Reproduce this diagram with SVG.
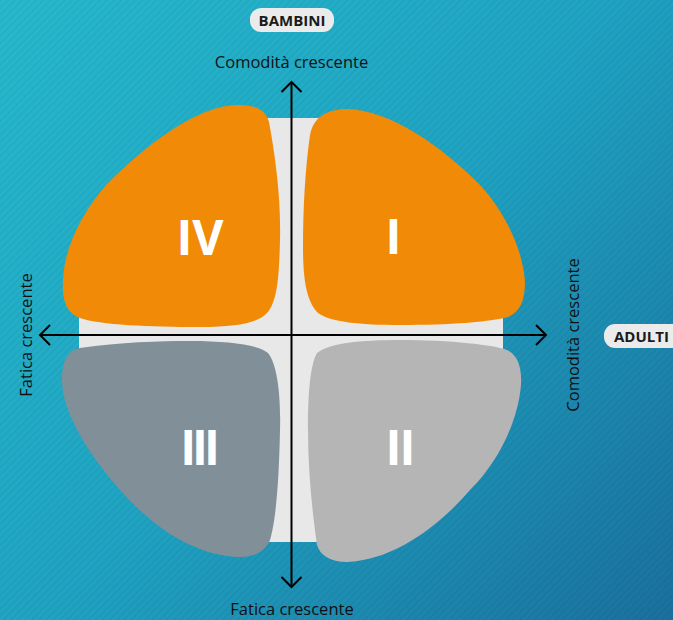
<svg xmlns="http://www.w3.org/2000/svg" width="673" height="620" viewBox="0 0 673 620">
<defs>
<linearGradient id="bg" x1="0" y1="0" x2="673" y2="620" gradientUnits="userSpaceOnUse">
<stop offset="0" stop-color="#27b9cd"/>
<stop offset="0.5" stop-color="#1fa3c2"/>
<stop offset="1" stop-color="#1a709d"/>
</linearGradient>
<pattern id="stripes" width="5" height="5" patternUnits="userSpaceOnUse" patternTransform="rotate(45)">
<rect x="0" y="0" width="1.5" height="5" fill="#000" fill-opacity="0.05"/>
</pattern>
<marker id="head" viewBox="-12 -12 14 24" markerWidth="14" markerHeight="24" refX="0" refY="0" orient="auto" markerUnits="userSpaceOnUse">
<path d="M -10,-10 L 0,0 L -10,10" fill="none" stroke="#000" stroke-width="2"/>
</marker>
</defs>
<style>
.lbl{font-family:"Open Sans","Noto Sans","DejaVu Sans",sans-serif;font-size:16.5px;fill:#111;}
.pill{fill:#ebebeb;}
.ptxt{font-family:"Open Sans","Noto Sans","DejaVu Sans",sans-serif;font-size:15px;font-weight:bold;fill:#1a1a1a;}
.num{font-family:"Open Sans","Noto Sans","DejaVu Sans",sans-serif;font-size:48px;font-weight:bold;fill:#fff;text-anchor:middle;}
.axis{stroke:#000;stroke-width:2;fill:none;marker-end:url(#head);}
.panel{fill:#e8e8e8;}
</style>
<rect width="673" height="620" fill="url(#bg)"/>
<rect width="673" height="620" fill="url(#stripes)"/>
<g id="panel">
<rect class="panel" x="250" y="118" width="85" height="424" rx="6"/>
<rect class="panel" x="79" y="300" width="424" height="60"/>
</g>
<g id="q4">
<path d="M 237,105 C 255,104 266,110 269,122 C 276,160 281,200 280,240 C 279,280 277,300 268,312 C 260,322 240,327 200,327 C 150,327 100,325 80,318 C 65,312 62,298 63,280 C 64,250 80,215 106,185 C 146,145 196,106 237,105 Z" fill="#f18a07"/>
<text class="num" x="200" y="255">IV</text>
</g>
<g id="q1">
<path d="M 347,109 C 326,109 313,118 310,135 C 305,170 303,210 303,245 C 303,275 305,300 318,313 C 330,322 360,325 400,325 C 450,325 490,322 508,317 C 520,312 525,300 525,282 C 523,250 505,212 480,185 C 440,145 390,110 347,109 Z" fill="#f18a07"/>
<text class="num" x="393.5" y="254">I</text>
</g>
<g id="q3">
<path d="M 80,348 C 120,342 160,341 190,341 C 230,341 258,345 268,353 C 278,365 281,400 280,430 C 279,480 276,520 270,540 C 265,553 252,557 237,557 C 200,555 160,535 120,490 C 85,450 62,410 62,380 C 62,360 68,350 80,348 Z" fill="#818f98"/>
<text class="num" x="198" y="465" letter-spacing="-4">III</text>
</g>
<g id="q2">
<path d="M 317,353 C 330,343 360,340 400,340 C 450,340 495,345 507,350 C 518,355 522,368 521,385 C 518,420 500,460 470,490 C 440,525 395,560 347,562 C 330,562 320,555 317,545 C 312,510 308,470 308,430 C 308,395 310,365 317,353 Z" fill="#b5b5b5"/>
<text class="num" x="399.5" y="465" letter-spacing="-2">II</text>
</g>
<g id="connectors">
<line class="axis" x1="291.5" y1="335" x2="291.5" y2="82"/>
<line class="axis" x1="291.5" y1="335" x2="291.5" y2="587"/>
<line class="axis" x1="291.5" y1="335" x2="40" y2="335"/>
<line class="axis" x1="291.5" y1="335" x2="546" y2="335"/>
</g>
<g id="bambini">
<rect class="pill" x="250" y="8" width="84" height="24" rx="11"/>
<text class="ptxt" x="292" y="26" text-anchor="middle">BAMBINI</text>
</g>
<g id="adulti">
<rect class="pill" x="604" y="324" width="80" height="24" rx="11"/>
<text class="ptxt" x="614" y="342">ADULTI</text>
</g>
<g id="labels">
<text class="lbl" x="291.5" y="68" text-anchor="middle">Comodità crescente</text>
<text class="lbl" x="292" y="615" text-anchor="middle">Fatica crescente</text>
<text class="lbl" text-anchor="middle" transform="translate(32,335) rotate(-90)">Fatica crescente</text>
<text class="lbl" text-anchor="middle" transform="translate(579,335) rotate(-90)">Comodità crescente</text>
</g>
</svg>
